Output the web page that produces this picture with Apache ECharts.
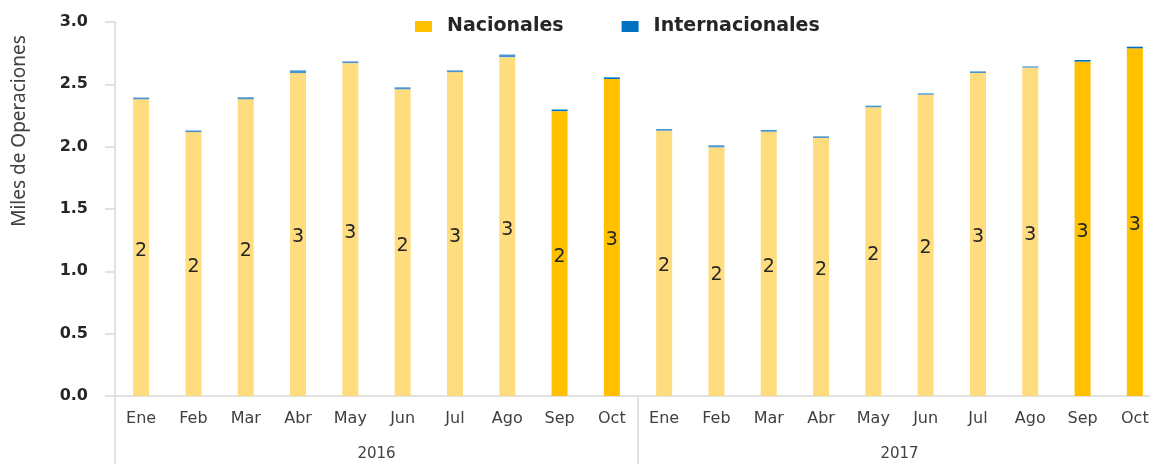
<!DOCTYPE html>
<html>
<head>
<meta charset="utf-8">
<script src="https://cdn.jsdelivr.net/npm/echarts@6/dist/echarts.min.js"></script>
<style>
  html, body { margin: 0; padding: 0; background: #fff; }
  #chart { width: 1150px; height: 464px; }
</style>
</head>
<body>
<div id="chart"></div>
<script>
// meses y años
var months = ["Ene", "Feb", "Mar", "Abr", "May", "Jun", "Jul", "Ago", "Sep", "Oct",
              "Ene", "Feb", "Mar", "Abr", "May", "Jun", "Jul", "Ago", "Sep", "Oct"];
var years = ["2016", "2017"];

// miles de operaciones
var nacionales = [2.38, 2.117, 2.38, 2.59, 2.67, 2.46, 2.598, 2.718, 2.285, 2.543,
                  2.128, 1.995, 2.12, 2.07, 2.316, 2.417, 2.591, 2.634, 2.682, 2.789];
var internacionales = [0.014, 0.013, 0.016, 0.022, 0.014, 0.016, 0.014, 0.021, 0.013, 0.013,
                       0.014, 0.016, 0.014, 0.013, 0.013, 0.011, 0.013, 0.01, 0.013, 0.013];

// meses resaltados (Sep y Oct)
var highlighted = [8, 9, 18, 19];

var yTicks = [0, 0.5, 1, 1.5, 2, 2.5, 3];

var axisGray = "#d9d9d9";

var myChart = echarts.init(document.getElementById("chart"));

myChart.setOption({
  animation: false,
  legend: {
    top: 12,
    left: 410,
    itemWidth: 17,
    itemHeight: 11,
    itemGap: 58,
    icon: "rect",
    data: ["Nacionales", "Internacionales"],
    textStyle: {
      fontFamily: "DejaVu Sans",
      fontWeight: "bold",
      fontSize: 19,
      color: "#262626",
      padding: [0, 0, 0, 10],
    },
  },
  grid: {
    left: 115,
    right: -11,
    top: 22,
    bottom: 68,
    outerBoundsMode: "none",
  },
  graphic: [
    {
      type: "text",
      x: 20,
      y: 131,
      rotation: Math.PI / 2,
      style: {
        text: "Miles de Operaciones",
        fontFamily: "Noto Sans",
        fontSize: 19,
        fill: "#404040",
        align: "center",
        verticalAlign: "middle",
      },
    },
  ],
  xAxis: [
    {
      type: "category",
      data: months,
      position: "bottom",
      axisLine: { show: true, lineStyle: { color: axisGray, width: 1.5 } },
      axisTick: { show: false },
      axisLabel: {
        interval: 0,
        margin: 15,
        fontFamily: "DejaVu Sans",
        fontSize: 16,
        color: "#404040",
      },
    },
    {
      type: "category",
      data: years,
      position: "bottom",
      axisLine: { show: false },
      axisTick: {
        show: true,
        interval: 0,
        length: 68,
        lineStyle: { color: axisGray, width: 1.5 },
      },
      axisLabel: {
        interval: 0,
        margin: 51,
        fontFamily: "DejaVu Sans",
        fontSize: 15,
        color: "#404040",
      },
    },
  ],
  yAxis: {
    type: "value",
    min: yTicks[0],
    max: yTicks[yTicks.length - 1],
    interval: 0.5,
    axisLine: { show: true, lineStyle: { color: axisGray, width: 1.5 } },
    axisTick: { show: true, length: 10, lineStyle: { color: axisGray, width: 1.5 } },
    splitLine: { show: false },
    axisLabel: {
      margin: 27,
      fontFamily: "DejaVu Sans",
      fontWeight: "bold",
      fontSize: 16,
      color: "#262626",
      formatter: function (v) {
        return v.toFixed(1);
      },
    },
  },
  series: [
    {
      name: "Nacionales",
      type: "bar",
      stack: "total",
      barWidth: 16,
      itemStyle: { color: "#FFC000" },
      label: {
        show: true,
        position: "inside",
        offset: [0, 3],
        fontFamily: "DejaVu Sans",
        fontSize: 19,
        color: "#262626",
        formatter: function (p) {
          return Math.round(p.value);
        },
      },
      data: nacionales.map(function (v, i) {
        return {
          value: v,
          itemStyle: { color: highlighted.indexOf(i) >= 0 ? "#FFC000" : "#FFDC7E" },
        };
      }),
    },
    {
      name: "Internacionales",
      type: "bar",
      stack: "total",
      barWidth: 16,
      itemStyle: { color: "#0070C0" },
      data: internacionales.map(function (v, i) {
        return {
          value: v,
          itemStyle: { color: highlighted.indexOf(i) >= 0 ? "#0070C0" : "#4a94cf" },
        };
      }),
    },
  ],
});
</script>
</body>
</html>
